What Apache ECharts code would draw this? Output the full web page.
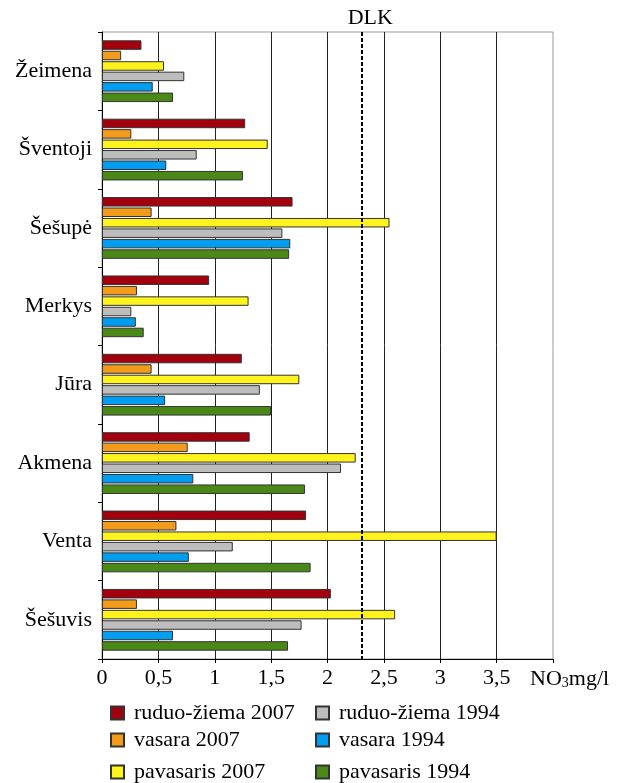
<!DOCTYPE html>
<html>
<head>
<meta charset="utf-8">
<script src="https://cdn.jsdelivr.net/npm/echarts@6/dist/echarts.min.js"></script>
<style>html,body{margin:0;padding:0;background:#fff;}#c{width:621px;height:783px;}</style>
</head>
<body>
<div id="c"></div>
<script>
const categories = ['Žeimena', 'Šventoji', 'Šešupė', 'Merkys', 'Jūra', 'Akmena', 'Venta', 'Šešuvis'];
const ruduoZiema2007 = [0.35, 1.27, 1.69, 0.95, 1.24, 1.31, 1.81, 2.03];
const vasara2007     = [0.17, 0.26, 0.44, 0.31, 0.44, 0.76, 0.66, 0.31];
const pavasaris2007  = [0.55, 1.47, 2.55, 1.30, 1.75, 2.25, 3.50, 2.60];
const ruduoZiema1994 = [0.73, 0.84, 1.60, 0.26, 1.40, 2.12, 1.16, 1.77];
const vasara1994     = [0.45, 0.57, 1.67, 0.30, 0.56, 0.81, 0.77, 0.63];
const pavasaris1994  = [0.63, 1.25, 1.66, 0.37, 1.50, 1.80, 1.85, 1.65];
const dlkValue = 2.3;
const xTicks = [0, 0.5, 1, 1.5, 2, 2.5, 3, 3.5];

const FONT = "'Liberation Serif', 'Times New Roman', serif";
const FS = 22;
const seriesDefs = [
  ['ruduo-žiema 2007', ruduoZiema2007, '#A2000C'],
  ['vasara 2007', vasara2007, '#F39B1A'],
  ['pavasaris 2007', pavasaris2007, '#FFF31E'],
  ['ruduo-žiema 1994', ruduoZiema1994, '#BDBDBD'],
  ['vasara 1994', vasara1994, '#009DF0'],
  ['pavasaris 1994', pavasaris1994, '#4A8917']
];
const series = seriesDefs.map((d, i) => ({
  name: d[0], type: 'bar', data: d[1],
  barWidth: 9.5, barGap: '10%',
  itemStyle: { color: d[2], borderColor: '#333', borderWidth: 1 },
  silent: true
}));
series[0].markLine = {
  silent: true, symbol: ['none', 'none'],
  lineStyle: { color: '#000', type: [4, 2], width: 2 },
  label: { show: true, position: 'start', formatter: 'DLK', color: '#000', fontFamily: FONT, fontSize: FS, padding: [0, 0, 0, 18], distance: 3 },
  data: [{ xAxis: dlkValue }]
};
const legendPos = [[110, 702], [110, 729], [110, 761], [315, 702], [315, 729], [315, 761]];
const legendTextPad = [5, 5, 5, 5, 5, 5];
const legends = seriesDefs.map((d, i) => ({
  data: [d[0]], left: legendPos[i][0], top: legendPos[i][1], padding: 0,
  icon: 'rect', itemWidth: 13, itemHeight: 13, itemGap: 10,
  textStyle: { color: '#000', fontFamily: FONT, fontSize: FS, padding: [0, 0, 0, legendTextPad[i]] }
}));

const chart = echarts.init(document.getElementById('c'), null, { renderer: 'canvas' });
chart.setOption({
  backgroundColor: '#fff',
  animation: false,
  legend: legends,
  grid: { left: 102, top: 32, width: 451, height: 627, show: true, borderColor: '#999', borderWidth: 1, containLabel: false },
  xAxis: {
    type: 'value', min: 0, max: 4, interval: 0.5,
    axisLine: { show: true, lineStyle: { color: '#000', width: 1 } },
    axisTick: { show: true, length: 4, lineStyle: { color: '#000' } },
    splitLine: { show: true, showMinLine: false, showMaxLine: false, lineStyle: { color: '#222', width: 1 } },
    axisLabel: {
      color: '#000', fontFamily: FONT, fontSize: FS, margin: 8,
      formatter: v => xTicks.indexOf(v) >= 0 ? String(v).replace('.', ',') : ''
    }
  },
  yAxis: {
    type: 'category', data: categories, inverse: true,
    axisLine: { show: true, lineStyle: { color: '#000', width: 1 } },
    axisTick: { show: true, length: 4, lineStyle: { color: '#000' } },
    axisLabel: { color: '#000', fontFamily: FONT, fontSize: FS, margin: 10 }
  },
  graphic: [{
    type: 'text', left: 530, top: 668,
    style: {
      text: '{a|NO}{s|3}{a|mg/l}',
      rich: {
        a: { fontFamily: FONT, fontSize: FS, fill: '#000', verticalAlign: 'bottom', lineHeight: 26 },
        s: { fontFamily: FONT, fontSize: 14, fill: '#000', verticalAlign: 'bottom', lineHeight: 14 }
      }
    }
  }],
  series: series
});
</script>
</body>
</html>
